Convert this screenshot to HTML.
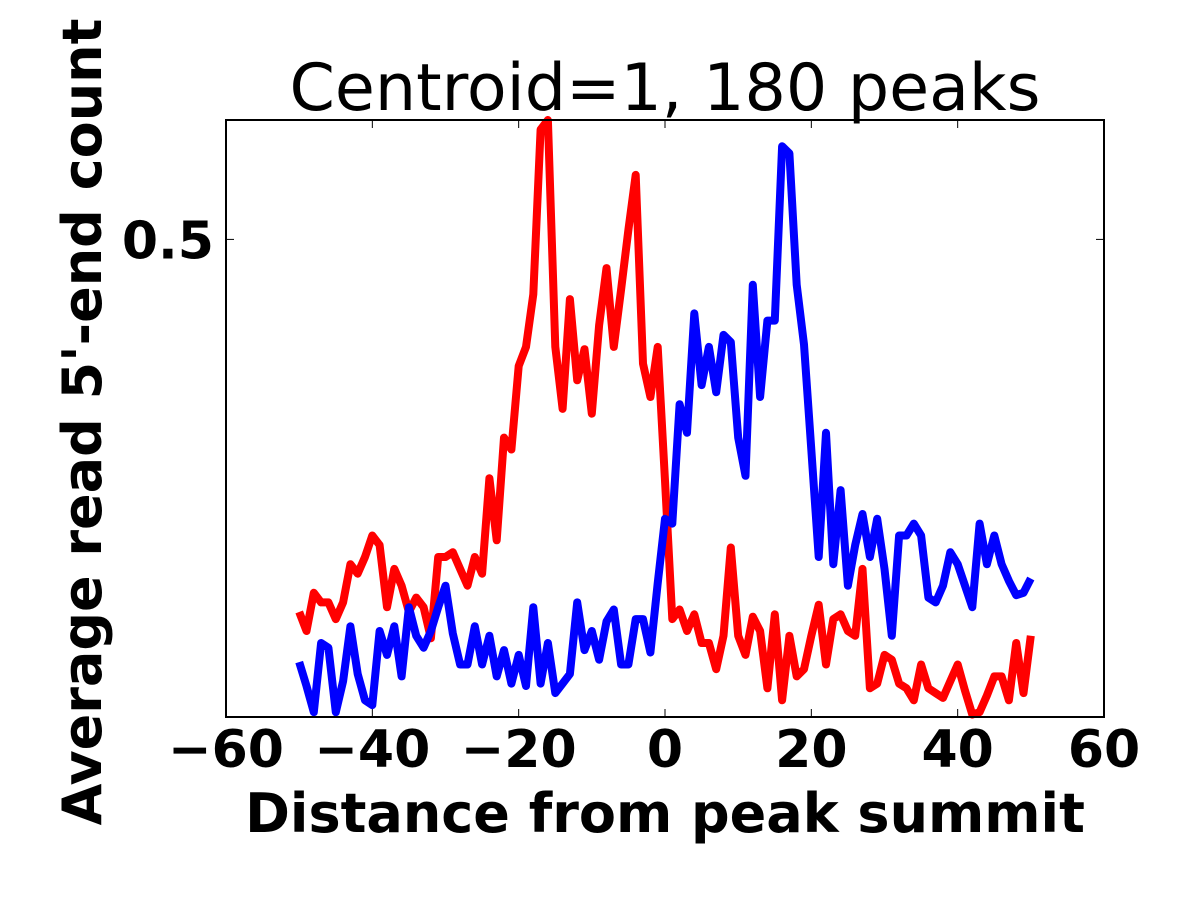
<!DOCTYPE html>
<html><head><meta charset="utf-8"><style>body{margin:0;background:#fff}svg{display:block}text{font-family:"DejaVu Sans","Liberation Sans",sans-serif}</style></head>
<body>
<svg id="chart" width="1200" height="900" xmlns="http://www.w3.org/2000/svg">
<text x="665" y="110" font-size="65" text-anchor="middle">Centroid=1, 180 peaks</text>
<g id="plot"></g>
<rect x="226" y="120" width="878" height="597" fill="none" stroke="#000" stroke-width="2"/>
<text x="665" y="832" font-size="54" font-weight="bold" text-anchor="middle">Distance from peak summit</text>
<text transform="translate(101,422) rotate(-90)" font-size="54" font-weight="bold" text-anchor="middle">Average read 5'-end count</text>
</svg>
<script>
const xTicks=[-60,-40,-20,0,20,40,60];
const yTicks=[0.5];
const red=[0.344,0.336,0.352,0.348,0.348,0.341,0.348,0.364,0.360,0.367,0.376,0.372,0.346,0.362,0.355,0.344,0.350,0.346,0.333,0.367,0.367,0.369,0.362,0.355,0.367,0.360,0.400,0.374,0.417,0.412,0.447,0.455,0.477,0.546,0.550,0.455,0.429,0.475,0.441,0.454,0.427,0.464,0.488,0.455,0.479,0.504,0.527,0.448,0.434,0.455,0.399,0.341,0.345,0.336,0.343,0.331,0.331,0.320,0.334,0.371,0.334,0.326,0.342,0.336,0.312,0.343,0.307,0.334,0.317,0.320,0.334,0.347,0.322,0.341,0.343,0.336,0.334,0.362,0.312,0.314,0.326,0.324,0.314,0.312,0.307,0.322,0.312,0.310,0.308,0.315,0.322,0.311,0.301,0.302,0.309,0.317,0.317,0.307,0.331,0.310,0.334];
const blue=[0.323,0.313,0.302,0.331,0.329,0.302,0.315,0.338,0.318,0.307,0.305,0.336,0.326,0.338,0.317,0.346,0.334,0.329,0.336,0.346,0.355,0.335,0.322,0.322,0.338,0.322,0.334,0.317,0.328,0.314,0.326,0.313,0.346,0.314,0.331,0.310,0.314,0.318,0.348,0.328,0.336,0.324,0.340,0.345,0.322,0.322,0.341,0.341,0.327,0.356,0.383,0.381,0.431,0.419,0.469,0.439,0.455,0.436,0.460,0.457,0.417,0.401,0.481,0.434,0.466,0.466,0.539,0.536,0.481,0.456,0.412,0.367,0.419,0.364,0.395,0.355,0.372,0.385,0.367,0.383,0.362,0.334,0.376,0.376,0.381,0.376,0.350,0.348,0.355,0.369,0.364,0.355,0.346,0.381,0.364,0.376,0.364,0.357,0.351,0.352,0.358];
const xStart=-50;
const L=226,R=1104,T=120,B=717,X0=-60,X1=60,Y0=0.3,Y1=0.55;
const sx=v=>L+(v-X0)/(X1-X0)*(R-L);
const sy=v=>B-(v-Y0)/(Y1-Y0)*(B-T);
const ns="http://www.w3.org/2000/svg";
const g=document.getElementById('plot');
function mk(t,a){const e=document.createElementNS(ns,t);for(const k in a)e.setAttribute(k,a[k]);g.appendChild(e);return e;}
xTicks.forEach(t=>{
  const a=mk('line',{x1:sx(t),x2:sx(t),y1:B,y2:B-8,stroke:'#000','stroke-width':1});
  
  
  const b=mk('line',{x1:sx(t),x2:sx(t),y1:T,y2:T+8,stroke:'#000','stroke-width':1});
  
  
  const tx=mk('text',{x:sx(t),y:767,'font-size':52,'font-weight':'bold','text-anchor':'middle'});
  tx.textContent=(t<0?'\u2212'+(-t):String(t));
  
  
});
yTicks.forEach(t=>{
  const a=mk('line',{x1:L,x2:L+8,y1:sy(t),y2:sy(t),stroke:'#000','stroke-width':1});
  
  
  const b=mk('line',{x1:R,x2:R-8,y1:sy(t),y2:sy(t),stroke:'#000','stroke-width':1});
  
  
  const tx=mk('text',{x:214,y:sy(t)+19,'font-size':52,'font-weight':'bold','text-anchor':'end'});
  tx.textContent=String(t);
  
  
});
function line(arr,color,name){
  const p=arr.map((v,i)=>sx(xStart+i).toFixed(1)+','+sy(v).toFixed(1)).join(' ');
  const e=mk('polyline',{points:p,fill:'none',stroke:color,'stroke-width':8,'stroke-linejoin':'round'});
  
  
}
line(red,'#ff0000','red-series-line');
line(blue,'#0000ff','blue-series-line');
</script>
</body></html>
